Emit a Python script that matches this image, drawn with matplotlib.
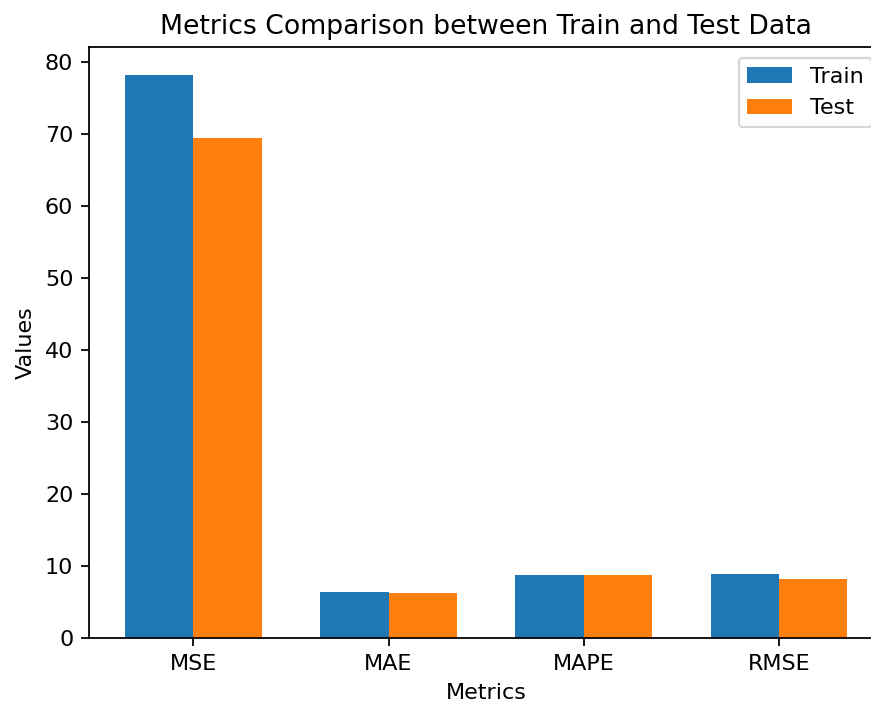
import numpy as np
import matplotlib
matplotlib.use("Agg")
import matplotlib.pyplot as plt

metrics = ['MSE', 'MAE', 'MAPE', 'RMSE']
train_values = [78.16, 6.46, 8.73, 8.91]
test_values = [69.37, 6.24, 8.73, 8.22]

fig = plt.figure(figsize=(871 / 160, 705 / 160), dpi=160)
# axes runs a little past the right edge, like the cropped original
ax = fig.add_axes([88.9 / 871, 66.7 / 705, 794.5 / 871, 591.3 / 705])

x = np.arange(len(metrics))
width = 0.35
ax.bar(x - width / 2, train_values, width, label='Train')
ax.bar(x + width / 2, test_values, width, label='Test')

ax.set_xlabel('Metrics')
ax.set_ylabel('Values')
ax.set_title('Metrics Comparison between Train and Test Data')
ax.set_xticks(x)
ax.set_xticklabels(metrics)
ax.legend()

fig.savefig('out.png', dpi=160)
